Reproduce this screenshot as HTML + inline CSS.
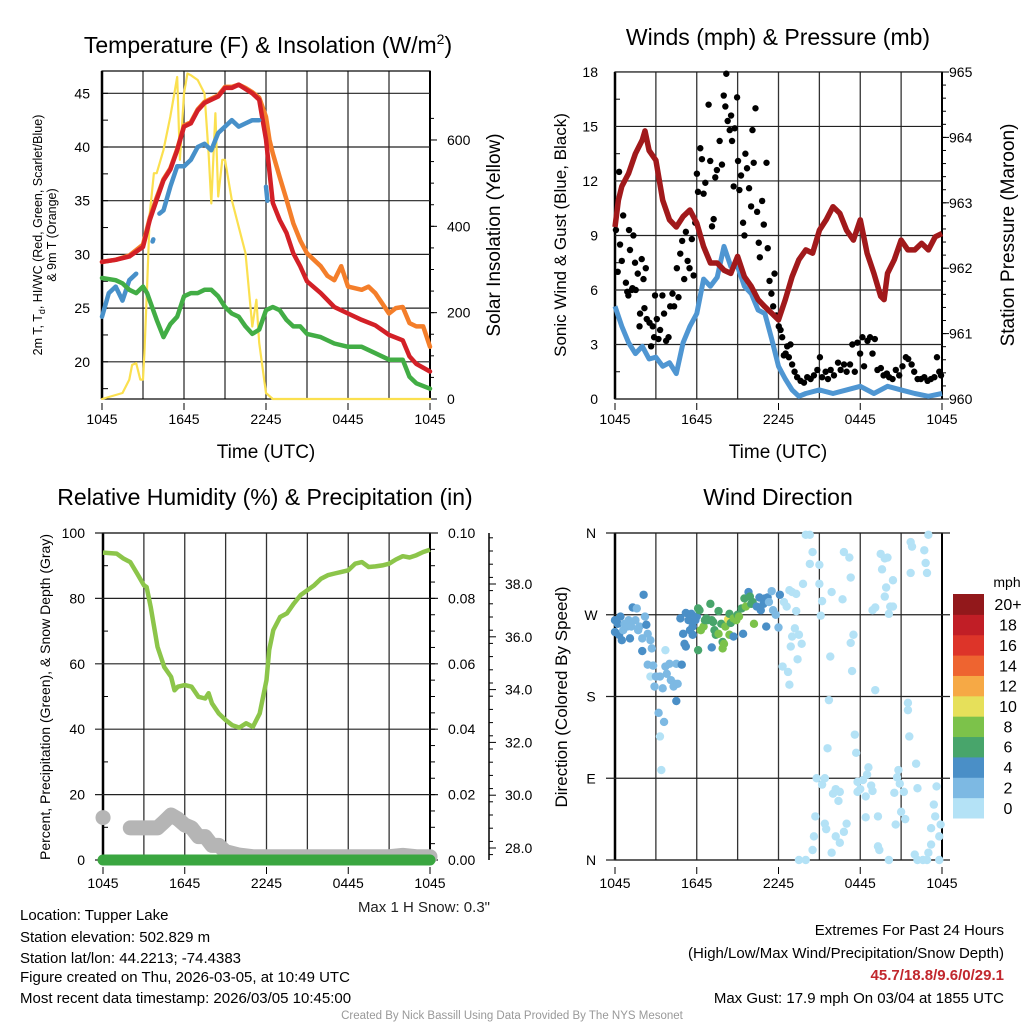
<!DOCTYPE html>
<html><head><meta charset="utf-8"><style>
body{margin:0;background:#fff;}
svg{display:block;font-family:"Liberation Sans",sans-serif;}
</style></head><body>
<svg id="c" width="1024" height="1024" viewBox="0 0 1024 1024"></svg>
<script>
// ===== Panel 1 data (hours since 1045 UTC) =====
const tHours=[0,1,2,3,3.5,4,4.5,5,5.5,6,6.5,7,7.5,8,8.5,9,9.5,10,10.5,11,11.5,12,12.5,13,13.5,14,14.5,15,16,17,18,19,20,21,22,22.5,23,24];
const tRed=[29.3,29.5,29.8,30.7,33.2,35.1,36.9,37.9,39.7,41.9,42.2,43.4,44.1,44.4,44.7,45.5,45.5,45.8,45.4,45,44.4,40.7,34.8,33.2,32,30.1,28.9,27.5,26.4,25.1,24.5,23.9,23.4,22.5,22,20.5,19.8,19.1];
const orHours=[0,1,2,3,3.5,4,4.5,5,5.5,6,6.5,7,7.5,8,8.5,9,9.5,10,10.5,11,11.5,12,12.25,12.5,13,13.5,14,14.5,15,16,16.5,17,17.5,18,19,19.5,20,21,21.5,22,22.5,23,23.5,24];
const tOrange=[29.3,29.5,29.9,30.9,33.4,35.3,37.0,38.0,39.8,42.0,42.3,43.5,44.2,44.5,44.8,45.6,45.6,45.8,45.5,45.1,44.6,42.8,40.7,39.4,37.2,35.1,32.9,31.3,30.1,28.9,28,27.6,28.9,27,26.7,27,26.4,24.5,25,25.1,23.6,23.3,23.3,21.4];
const blHours=[0,0.5,1,1.5,2,2.5,null,3.7,3.75,null,4.2,4.5,5,5.5,6,6.5,7,7.5,8,8.5,9,9.5,10,10.5,11,11.5,null,12.0,12.1];
const tBlue=[24.2,26.4,27,25.7,27.6,28.2,null,31.2,31.4,null,33.8,34.1,36.3,38.2,38.2,38.8,40,40.3,39.7,41.3,41.9,42.5,41.9,42.2,42.5,42.5,null,36.3,35];
const tdHours=[0,1,1.5,2,2.5,3,3.3,4,4.5,5,5.5,6,6.5,7,7.5,8,8.5,9,9.5,10,10.5,11,11.5,12,12.5,13,13.5,14,14.5,15,16,17,18,19,20,21,22,22.5,23,24];
const tGreen=[27.8,27.6,27.3,26.7,26.4,27,26.4,23.9,22.3,23.5,24.2,26.1,26.4,26.4,26.7,26.7,26.1,25.1,24.5,24.2,23.3,22.6,23,24.8,25.1,24.8,23.9,23.3,23.3,22.6,22.3,21.7,21.4,21.4,20.8,20.2,20.2,18.6,18,17.5];
const solHours=[0,1.5,2,2.2,2.5,2.8,3,3.1,3.3,3.5,3.8,4,4.5,5,5.5,5.7,6,6.25,6.5,7,7.5,7.8,8,8.3,8.5,8.8,9,9.5,10,10.5,11,11.3,11.5,12,12.5,24];
const solar=[0,14,45,79,83,45,45,106,260,430,523,523,577,654,746,554,708,754,750,739,708,569,453,662,469,554,554,461,399,338,168,230,130,14,0,0];
const p1LeftTicks=[20,25,30,35,40,45];
const p1RightTicks=[0,200,400,600];
const xTickLabels=["1045","1645","2245","0445","1045"];
const xTickHours=[0,6,12,18,24];

// ===== Panel 2 data =====
const wHours=[0,0.5,1,1.5,2,2.5,3,3.5,4,4.5,5,5.5,6,6.5,7,7.5,8,8.5,9,9.5,10,10.5,11,11.5,12,12.5,13,13.5,14,15,16,17,18,19,20,21,22,23,24];
const sonic=[5.1,4,3.1,2.5,2.9,2.2,2.3,1.8,2,1.4,3.1,4,4.7,6.6,6.2,6.7,8.4,7.3,7.3,6.2,5.8,4.9,4.7,3.3,1.8,1.1,0.5,0.15,0.3,0.5,0.3,0.5,0.7,0.3,0.7,0.5,0.3,0.15,0.3];
const pHours=[0,0.25,0.5,1,1.5,2,2.2,2.5,3,3.5,4,4.5,5,5.5,6,6.5,7,7.5,8,8.5,9,9.5,10,10.5,11,11.5,12,12.5,13,13.5,14,14.5,15,15.5,16,16.5,17,17.5,18,18.5,19,19.5,19.75,20,20.5,21,21.5,22,22.5,23,23.5,24];
const pressure=[962.63,963.04,963.25,963.45,963.75,963.96,964.1,963.8,963.65,963.04,962.74,962.63,962.79,962.89,962.69,962.33,962.08,962.08,961.97,961.92,962.18,961.87,961.72,961.52,961.41,961.31,961.21,961.52,961.87,962.13,962.28,962.23,962.58,962.74,962.94,962.84,962.58,962.43,962.74,962.23,961.92,961.57,961.52,961.92,962.13,962.43,962.28,962.28,962.38,962.28,962.48,962.53];
const gustHours=[0.07,0.3,0.2,0.37,0.5,0.6,0.8,0.9,0.98,1.03,1.1,1.23,1.28,1.35,1.47,1.52,1.67,1.8,1.84,1.96,2.09,2.16,2.26,2.33,2.53,2.65,2.77,2.87,2.94,3.07,3.19,3.31,3.48,3.6,3.75,3.93,4.05,4.22,4.34,4.54,4.66,4.79,4.93,5.08,5.2,5.33,5.47,5.64,5.77,5.89,6.01,6.09,6.26,6.38,6.5,6.63,6.87,6.99,7.12,7.24,7.36,7.48,7.68,7.85,7.98,8.1,8.17,8.27,8.42,8.52,8.59,8.71,8.79,8.96,9.03,9.13,9.25,9.4,9.5,9.57,9.69,9.84,9.99,10.09,10.18,10.31,10.43,10.55,10.63,10.8,10.92,11.12,11.21,11.34,11.48,11.61,11.71,11.85,12.02,12.15,12.27,12.39,12.52,12.64,12.76,12.88,13.0,13.18,13.37,13.62,13.87,14.11,14.36,14.6,14.85,15.04,15.2,15.46,15.63,15.83,16.07,16.37,16.56,16.81,17.0,17.25,17.42,17.6,17.79,17.99,18.16,18.28,18.53,18.72,18.9,19.07,19.26,19.51,19.71,19.95,20.12,20.37,20.61,20.86,21.1,21.35,21.52,21.77,21.96,22.21,22.45,22.7,22.94,23.19,23.44,23.63,23.8,23.93];
const gust=[9.3,12.5,7.0,8.5,7.6,10.1,6.4,5.9,5.7,9.3,8.2,6.0,6.1,9.0,7.5,6.0,6.9,4.0,4.7,7.7,6.6,5.0,7.2,4.4,4.2,2.9,4.0,3.4,5.7,4.4,3.3,3.8,5.7,4.7,3.2,3.4,5.1,5.8,5.1,7.2,5.6,8.0,8.7,6.6,9.2,7.6,7.2,8.8,6.8,9.7,12.4,11.4,13.8,13.2,11.3,11.9,16.2,13.1,9.5,9.9,12.2,12.6,14.2,12.9,16.7,16.1,17.9,15.3,14.8,15.6,14.2,11.7,14.9,16.6,13.1,11.5,12.3,9.7,9.0,13.5,12.7,11.6,10.6,14.8,13.0,16.0,10.3,8.6,7.8,10.9,9.6,13.0,8.3,6.5,5.8,5.1,6.9,4.6,4.0,3.8,3.4,2.4,2.5,2.9,2.3,3.0,1.9,1.5,1.2,1.0,0.9,1.2,1.1,1.3,1.6,2.3,1.2,1.5,1.1,1.6,1.3,2.0,1.6,1.9,1.5,1.9,3.0,1.5,3.1,2.5,3.4,1.8,3.2,3.4,2.5,3.3,1.6,1.7,1.3,1.4,1.2,1.1,1.6,1.3,1.8,2.3,2.2,1.9,1.5,1.1,1.1,1.2,1.0,1.1,1.2,2.3,1.5,1.3];
const p2LeftTicks=[0,3,6,9,12,15,18];
const p2RightTicks=[960,961,962,963,964,965];

// ===== Panel 3 data =====
const rhHours=[0,1,1.5,2,2.5,3,3.2,3.5,4,4.5,5,5.25,5.5,6,6.5,7,7.5,7.75,8,8.5,9,9.5,10,10.5,11,11.5,12,12.2,12.5,13,13.5,14,14.5,15,15.5,16,16.5,17,17.5,18,18.5,19,19.5,20,20.5,21,21.5,22,22.5,23,23.5,24];
const rh=[94,93.7,92.2,91.1,87.6,84,83.5,77.4,65.2,59,56,51.9,53,53.5,53,49.9,49.4,51,47.9,44.8,42.8,41.2,40.5,41.8,40.7,44.8,55,64.2,70.3,74.3,75.4,78.4,81,82.5,84,86,87.1,87.6,88.1,88.6,90.6,91.1,89.6,89.8,90.1,90.6,91.9,92.9,92.5,93.2,94.2,94.9];
const precipHours=[0,24];
const precip=[0,0];
const snowHours=[0,0.01,null,2,3,4,4.5,5,5.5,6,6.5,7,7.5,8,8.5,9,10,11,14,18,21,22,23,24];
const snow=[29.15,29.15,null,28.76,28.76,28.76,29.0,29.25,29.1,28.87,28.76,28.43,28.43,28.1,28.1,27.86,27.73,27.67,27.67,27.67,27.67,27.72,27.67,27.67];
const p3LeftTicks=[0,20,40,60,80,100];
const p3RightTicks=["0.00","0.02","0.04","0.06","0.08","0.10"];
const p3SnowTicks=[28,30,32,34,36,38];

// ===== Panel 4 data: [hour, direction deg, speed mph] =====
const dirHours=[0,0,0.2,0.4,0.3,0.5,0.6,0.7,0.9,1.0,1.1,1.2,1.3,1.5,1.6,1.7,1.8,2.0,2.1,2.2,2.3,2.4,2.6,2.0,2.7,2.4,2.8,2.6,2.9,3.0,3.3,3.5,3.7,3.8,3.7,4.0,4.1,4.3,4.4,4.5,4.6,4.9,4.5,3.2,3.6,3.3,3.4,
4.8,5.0,5.1,5.2,5.4,5.5,5.6,5.7,5.9,6.0,5.7,5.2,6.1,6.2,6.3,6.5,6.6,6.7,6.8,7.0,7.1,7.2,7.3,7.4,7.6,7.6,7.8,7.9,7.9,8.0,8.1,8.3,8.4,8.4,8.5,8.7,8.7,8.9,9.0,9.1,9.3,9.4,9.5,9.6,9.8,9.9,10.0,10.1,10.2,10.4,10.6,10.7,10.9,11.0,11.1,11.2,11.3,11.5,11.6,11.8,12.0,12.1,7.1,6.1,
12.3,12.7,12.8,12.4,12.6,12.8,13.0,13.3,13.3,13.2,13.0,13.5,13.7,13.4,12.9,13.8,14.0,14.3,14.5,14.3,15.0,15.0,15.2,15.1,15.8,15.7,15.9,16.7,16.8,17.2,17.3,17.5,17.3,17.4,15.6,17.6,17.7,14.8,15.4,15.2,16.2,16.0,16.5,16.4,14.7,15.4,15.5,17.0,16.8,16.2,16.5,14.6,14.5,15.9,13.5,14.0,17.8,18.2,18.5,18.6,18.8,18.9,18.4,18.0,17.8,18.4,19.3,19.3,19.4,20.1,20.5,20.7,20.8,20.9,21.2,21.0,21.3,20.6,22.0,22.2,22.6,22.9,23.0,23.2,23.2,23.4,23.6,23.5,23.8,23.9,23.8,22.1,22.2,21.6,21.5,21.5,19.1,18.9,19.1,20.2,20.1,19.8,19.9,20.4,19.5,19.8,20.0,19.6,21.7,21.8,22.7,22.8,22.9,21.7,23.0,20.4];
const dirDeg=[264,251,260,268,248,242,253,260,257,264,244,257,278,264,277,253,257,244,292,268,259,249,242,230,233,215,214,202,191,202,202,189,213,205,231,216,198,191,194,216,194,215,175,162,152,136,99,
266,249,238,272,264,253,271,257,264,268,248,235,277,275,253,257,264,266,264,282,264,262,253,248,274,249,260,240,233,238,257,265,248,271,261,266,246,264,270,268,277,249,288,279,295,290,282,284,260,279,289,275,282,288,257,289,284,296,275,270,256,292,234,231,
213,207,193,284,279,297,295,293,274,255,246,248,238,221,235,304,358,358,339,326,325,304,285,269,224,176,295,287,339,333,311,248,239,208,123,138,118,90,90,83,78,73,75,65,48,40,34,40,31,26,19,26,11,8,0,0,86,88,94,102,82,76,70,78,75,47,48,15,11,0,74,91,99,84,75,53,45,39,6,0,0,0,8,17,35,61,81,48,0,39,26,106,79,136,173,165,187,275,278,279,271,290,300,308,337,332,333,320,350,345,341,327,316,316,358,279];
const dirSpeed=[5,5,5,5,5,5,3,3,3,3,5,3,5,3,3,3,3,3,5,3,5,3,3,5,3,3,3,1,3,3,3,3,3,3,1,3,3,3,3,3,3,5,5,3,3,1,1,
5,5,5,5,5,5,5,5,5,5,5,5,7,7,9,9,7,7,7,7,7,7,7,7,7,9,7,7,9,9,9,11,9,7,7,9,5,9,7,9,7,5,7,9,5,7,7,7,9,5,5,5,5,5,5,5,3,3,3,3,3,5,5,7,
1,1,1,1,1,1,1,1,1,1,1,1,1,1,1,1,1,1,1,1,1,1,1,1,1,1,1,1,1,1,1,1,1,1,1,1,1,1,1,1,1,1,1,1,1,1,1,1,1,1,1,1,1,1,1,1,1,1,1,1,1,1,1,1,1,1,1,1,1,1,1,1,1,1,1,1,1,1,1,1,1,1,1,1,1,1,1,1,1,1,1,1,1,1,1,1,1,1,1,1,1,1,1,1,1,1,1,1,1,1,1,1,1,1,1,1,1,1,1];
const dirTickLabels=["N","E","S","W","N"];
const dirTickDeg=[0,90,180,270,360];
const cbLabels=["0","2","4","6","8","10","12","14","16","18","20+"];
const cbColors=["#b4e2f6","#7db9e3","#4a8fc7","#48a56b","#7cc24a","#e6e05a","#f6a945","#ee6430","#dd3429","#c11e26","#92181b"];

// ===== rendering =====
const NS="http://www.w3.org/2000/svg";
const svg=document.getElementById('c');
function mk(tag,attrs,parent){const e=document.createElementNS(NS,tag);for(const k in attrs)e.setAttribute(k,attrs[k]);(parent||svg).appendChild(e);return e;}
function txt(s,x,y,size,anchor,parent,extra){const e=mk('text',Object.assign({x:x,y:y,'font-size':size,'text-anchor':anchor||'middle',fill:'#000'},extra||{}),parent);e.textContent=s;return e;}
function pathD(xs,ys,fx,fy){let d='',pen=false;for(let i=0;i<xs.length;i++){if(xs[i]===null||ys[i]===null){pen=false;continue;}d+=(pen?'L':'M')+fx(xs[i]).toFixed(1)+' '+fy(ys[i]).toFixed(1);pen=true;}return d;}

function panelFrame(g,x0,x1,y0,y1,name){
  for(let h=3;h<24;h+=3){const x=x0+(x1-x0)*h/24;const l=mk('line',{x1:x,y1:y0,x2:x,y2:y1,stroke:'#333','stroke-width':1.3},g);
  
  }
  const r=mk('rect',{x:x0,y:y0,width:x1-x0,height:y1-y0,fill:'none',stroke:'#000','stroke-width':1.2},g);
  
  
  mk('line',{x1:x0,y1:y0,x2:x0,y2:y1,stroke:'#000','stroke-width':2.5},g);
  mk('line',{x1:x1,y1:y0,x2:x1,y2:y1,stroke:'#000','stroke-width':2},g);
}
function xLabels(g,x0,x1,y){const gg=mk('g',{},g);
  for(let i=0;i<xTickHours.length;i++){const x=x0+(x1-x0)*xTickHours[i]/24;txt(xTickLabels[i],x,y,14,'middle',gg);mk('line',{x1:x,y1:y-21,x2:x,y2:y-14,stroke:'#000'},gg);}}

// ---------- Panel 1 ----------
(function(){
const g=mk('g',{});
const x0=102,x1=430,y0=71,y1=399;
const fx=h=>x0+(x1-x0)*h/24, fy=v=>93.3+(45-v)*10.74, fr=w=>399-w*0.4317;
panelFrame(g,x0,x1,y0,y1,'temperature-plot');
p1LeftTicks.forEach(v=>{mk('line',{x1:x0,y1:fy(v),x2:x1,y2:fy(v),stroke:'#222','stroke-width':1.2},g);txt(String(v),90,fy(v)+5,14,'end',g);});
for(let v=17.5;v<47;v+=2.5){mk('line',{x1:x0,y1:fy(v),x2:x0+6,y2:fy(v),stroke:'#000'},g);}
p1RightTicks.forEach(v=>{mk('line',{x1:x1,y1:fr(v),x2:x1+7,y2:fr(v),stroke:'#000'},g);txt(String(v),447,fr(v)+5,14,'start',g);});
for(let v=50;v<700;v+=50){mk('line',{x1:x1,y1:fr(v),x2:x1+4,y2:fr(v),stroke:'#000'},g);}
const lines=[[solHours,solar,'#fbe04f',2.2,fr,'solar-line'],[orHours,tOrange,'#f47e2a',4.5,fy,'temp-9m-line'],[tHours,tRed,'#d32027',4.5,fy,'temp-2m-line'],[blHours,tBlue,'#4790c9',4.5,fy,'windchill-line'],[tdHours,tGreen,'#42ad45',4.5,fy,'dewpoint-line']];
lines.forEach(L=>{const p=mk('path',{d:pathD(L[0],L[1],fx,L[4]),fill:'none',stroke:L[2],'stroke-width':L[3],'stroke-linejoin':'round','stroke-linecap':'round'},g);

});
xLabels(g,x0,x1,424);
const t=txt('',268,53,23,'middle',g);t.innerHTML='Temperature (F) &amp; Insolation (W/m<tspan dy="-9" font-size="14">2</tspan><tspan dy="9">)</tspan>';

txt('Time (UTC)',266,458,19,'middle',g);
const yl=mk('text',{transform:'translate(42,235) rotate(-90)','font-size':12.5,'text-anchor':'middle'},g);yl.innerHTML='2m T, T<tspan dy="3" font-size="9">d</tspan><tspan dy="-3">, HI/WC (Red, Green, Scarlet/Blue)</tspan>';

txt('& 9m T (Orange)',0,0,12.5,'middle',g,{transform:'translate(56,235) rotate(-90)'});
const yr=txt('Solar Insolation (Yellow)',0,0,19,'middle',g,{transform:'translate(500,235) rotate(-90)'});

})();

// ---------- Panel 2 ----------
(function(){
const g=mk('g',{});
const x0=615,x1=942,y0=72,y1=399;
const fx=h=>x0+(x1-x0)*h/24, fy=v=>399-v*18.17, fp=p=>399-(p-960)*65.4;
panelFrame(g,x0,x1,y0,y1,'wind-plot');
p2LeftTicks.forEach(v=>{mk('line',{x1:x0,y1:fy(v),x2:x1,y2:fy(v),stroke:'#222','stroke-width':1.2},g);txt(String(v),598,fy(v)+5,14,'end',g);});
for(let v=1.5;v<18;v+=3){mk('line',{x1:x0,y1:fy(v),x2:x0+5,y2:fy(v),stroke:'#000'},g);}
p2RightTicks.forEach(v=>{mk('line',{x1:x1,y1:fp(v),x2:x1+7,y2:fp(v),stroke:'#000'},g);txt(String(v),949,fp(v)+5,14,'start',g);});
for(let v=960.2;v<965;v+=0.2){mk('line',{x1:x1,y1:fp(v),x2:x1+4,y2:fp(v),stroke:'#000'},g);}
const s=mk('path',{d:pathD(wHours,sonic,fx,fy),fill:'none',stroke:'#4f96d2','stroke-width':5,'stroke-linejoin':'round'},g);

const gg=mk('g',{},g);
for(let i=0;i<gust.length;i++){const c=mk('circle',{cx:fx(gustHours[i]),cy:fy(gust[i]),r:3.2,fill:'#000'},gg);

}
const p=mk('path',{d:pathD(pHours,pressure,fx,fp),fill:'none',stroke:'#a1191b','stroke-width':5.5,'stroke-linejoin':'round'},g);

xLabels(g,x0,x1,424);
txt('Winds (mph) & Pressure (mb)',778,45,23,'middle',g);
txt('Time (UTC)',778,458,19,'middle',g);
txt('Sonic Wind & Gust (Blue, Black)',0,0,17,'middle',g,{transform:'translate(566,235) rotate(-90)'});
txt('Station Pressure (Maroon)',0,0,19,'middle',g,{transform:'translate(1014,235) rotate(-90)'});
})();

// ---------- Panel 3 ----------
(function(){
const g=mk('g',{});
const x0=103,x1=430,y0=533,y1=860;
const fx=h=>x0+(x1-x0)*h/24, fy=v=>860-v*3.27, fs=s=>848-(s-28)*26.4;
panelFrame(g,x0,x1,y0,y1,'humidity-plot');
p3LeftTicks.forEach((v,i)=>{mk('line',{x1:x0-8,y1:fy(v),x2:x1+8,y2:fy(v),stroke:'#222','stroke-width':1.2},g);txt(String(v),85,fy(v)+5,14,'end',g);txt(p3RightTicks[i],448,fy(v)+5,14,'start',g);});
for(let v=10;v<100;v+=20){mk('line',{x1:x0,y1:fy(v),x2:x0+5,y2:fy(v),stroke:'#000'},g);}
for(let v=5;v<100;v+=5){mk('line',{x1:x1,y1:fy(v),x2:x1+5,y2:fy(v),stroke:'#000'},g);}
mk('line',{x1:489,y1:533,x2:489,y2:860,stroke:'#000','stroke-width':1.5},g);
p3SnowTicks.forEach(v=>{mk('line',{x1:489,y1:fs(v),x2:496,y2:fs(v),stroke:'#000'},g);txt(v.toFixed(1),505,fs(v)+5,14,'start',g);});
for(let v=27.75;v<41;v+=0.5){if(fs(v)>533)mk('line',{x1:489,y1:fs(v),x2:493,y2:fs(v),stroke:'#000'},g);}
const sn=mk('path',{d:pathD(snowHours,snow,fx,fs),fill:'none',stroke:'#b5b5b5','stroke-width':15,'stroke-linecap':'round','stroke-linejoin':'round'},g);

const pr=mk('path',{d:pathD(precipHours,precip,fx,fy),fill:'none',stroke:'#3aa640','stroke-width':11,'stroke-linecap':'round'},g);

const r=mk('path',{d:pathD(rhHours,rh,fx,fy),fill:'none',stroke:'#8cc54a','stroke-width':4.5,'stroke-linejoin':'round'},g);

xLabels(g,x0,x1,888);
txt('Relative Humidity (%) & Precipitation (in)',265,505,23,'middle',g);
txt('Percent, Precipitation (Green), & Snow Depth (Gray)',0,0,14,'middle',g,{transform:'translate(50,697) rotate(-90)'});
txt('Max 1 H Snow: 0.3"',490,912,15,'end',g,{fill:'#222'});
})();

// ---------- Panel 4 ----------
(function(){
const g=mk('g',{});
const x0=615,x1=942,y0=533,y1=860;
const fx=h=>x0+(x1-x0)*h/24, fy=d=>860-d*0.9083;
panelFrame(g,x0,x1,y0,y1,'direction-plot');
dirTickDeg.forEach((d,i)=>{mk('line',{x1:x0-9,y1:fy(d),x2:x1+8,y2:fy(d),stroke:'#222','stroke-width':1.2},g);txt(dirTickLabels[i],591,fy(d)+5,14,'middle',g);});
function col(s){let b=Math.floor(s/2);if(b>10)b=10;return cbColors[b];}
const dg=mk('g',{},g);
for(let i=0;i<dirDeg.length;i++){const c=mk('circle',{cx:fx(dirHours[i]),cy:fy(dirDeg[i]),r:4.2,fill:col(dirSpeed[i])},dg);

}
xLabels(g,x0,x1,888);
txt('Wind Direction',778,505,23,'middle',g);
txt('Direction (Colored By Speed)',0,0,17,'middle',g,{transform:'translate(567,697) rotate(-90)'});
const cb=mk('g',{},g);
const bh=(818-594)/cbColors.length;
cbColors.forEach((c,i)=>{const y=818-(i+1)*bh;mk('rect',{x:953,y:y,width:31,height:bh+0.5,fill:c},cb);txt(cbLabels[i],1008,y+bh/2+6,16,'middle',cb);});
txt('mph',1007,587,14,'middle',cb);
})();

// ---------- Footer text ----------
const info=["Location: Tupper Lake","Station elevation: 502.829 m","Station lat/lon: 44.2213; -74.4383","Figure created on Thu, 2026-03-05, at 10:49 UTC","Most recent data timestamp: 2026/03/05 10:45:00"];
const infoY=[920,942,963,982,1003];
const fg=mk('g',{});
info.forEach((s,i)=>txt(s,20,infoY[i],15,'start',fg));
const eg=mk('g',{});
txt('Extremes For Past 24 Hours',1004,935,15,'end',eg);
txt('(High/Low/Max Wind/Precipitation/Snow Depth)',1004,958,15,'end',eg);
txt('45.7/18.8/9.6/0/29.1',1004,980,15,'end',eg,{fill:'#c1272d','font-weight':'bold'});
txt('Max Gust: 17.9 mph On 03/04 at 1855 UTC',1004,1003,15,'end',eg);
const cr=txt('Created By Nick Bassill Using Data Provided By The NYS Mesonet',512,1019,11.5,'middle',svg,{fill:'#999'});

</script>
</body></html>
